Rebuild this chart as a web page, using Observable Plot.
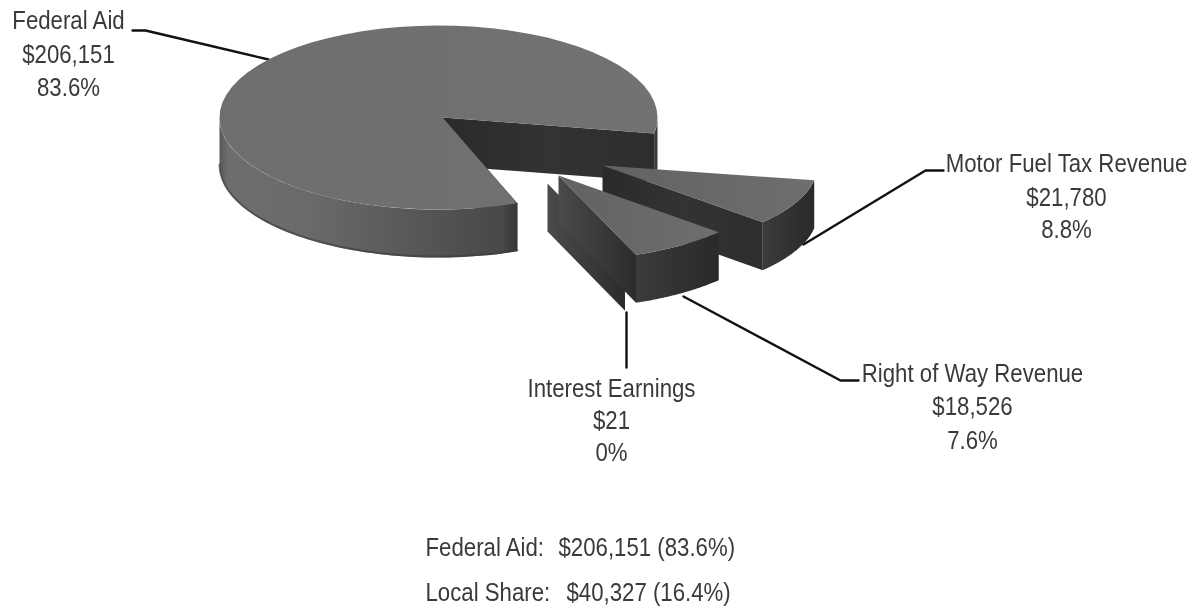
<!DOCTYPE html>
<html>
<head>
<meta charset="utf-8">
<style>html,body{margin:0;padding:0;background:#fff}svg{display:block;filter:blur(0.5px)}</style>
<script src="https://cdn.jsdelivr.net/npm/d3@7"></script>
<script src="https://cdn.jsdelivr.net/npm/@observablehq/plot@0.6"></script>
</head>
<body>
<script>
// data
const categories = ["Motor Fuel Tax Revenue", "Right of Way Revenue", "Interest Earnings", "Federal Aid"];
const amounts = [21780, 18526, 21, 206151];
const amountLabels = ["$21,780", "$18,526", "$21", "$206,151"];
const percentLabels = ["8.8%", "7.6%", "0%", "83.6%"];
const summaryNames = ["Federal Aid:", "Local Share:"];
const summaryValues = ["$206,151 (83.6%)", "$40,327 (16.4%)"];

// layout of the tilted pie (drawn through identity-like x/y scales)
const W = 1194, H = 606;
const depth = 48, startDeg = 10;
const radiiX = [215, 215, 215, 219];
const radiiY = [85, 85, 85, 92];
const centersX = [602, 558, 547, 438];
const centersY = [165, 175, 183, 117];
const apexShift = [0, 0, 0, 4];
const labelX = [1066, 972, 611, 68];
const labelY = [[163, 197, 229], [373, 406, 440], [388, 420, 452], [20, 54, 87]];
const leaders = [
  [[943, 170], [925, 170], [803, 244]],
  [[858, 380], [840, 380], [683, 296]],
  [[626, 312], [626, 367]],
  [[132, 30], [145, 30], [268, 59]]
];

const total = d3.sum(amounts);
const cum = [0, ...d3.cumsum(amounts)];
const rad = d => d * Math.PI / 180;
const angleAt = i => rad(startDeg) + cum[i] / total * 2 * Math.PI;

const pt = (i, a, dz = 0) => ({x: centersX[i] + radiiX[i] * Math.cos(a), y: centersY[i] + radiiY[i] * Math.sin(a) + dz});
const apex = (i, dz = 0) => ({x: centersX[i] + apexShift[i], y: centersY[i] + dz});
const arc = (i, a0, a1, dz = 0) => d3.range(0, 61).map(k => pt(i, a0 + (a1 - a0) * k / 60, dz));

const sliceTop = i => [apex(i), ...arc(i, angleAt(i), angleAt(i + 1))];
const rim = (i, a0, a1) => [...arc(i, a0, a1), ...arc(i, a1, a0, depth)];
const wall = (i, a) => [apex(i), pt(i, a), pt(i, a, depth), apex(i, depth)];

const poly = (pts, fill) => Plot.line(pts, {x: "x", y: "y", fill, stroke: "none", curve: "linear"});

const defs = () => {
  const s = d3.create("svg:defs");
  const grad = (id, stops) => {
    const g = s.append("linearGradient").attr("id", id)
      .attr("x1", 0).attr("y1", 0).attr("x2", 1).attr("y2", 0);
    stops.forEach(([o, c]) => g.append("stop").attr("offset", o).attr("stop-color", c));
  };
  grad("rimMain", [[0, "#585858"], [0.03, "#6e6e6e"], [0.3, "#6a6a6a"], [0.6, "#5a5a5a"], [0.95, "#484848"], [1, "#363636"]]);
  grad("rimSlice", [[0, "#3c3c3c"], [0.6, "#303030"], [1, "#2a2a2a"]]);
  grad("wallDark", [[0, "#2a2a2a"], [0.5, "#333333"], [1, "#2e2e2e"]]);
  grad("wallSide", [[0, "#4a4a4a"], [0.6, "#383838"], [1, "#2c2c2c"]]);
  grad("topMain", [[0, "#6e6e6e"], [1, "#727272"]]);
  grad("topSlice", [[0, "#626262"], [1, "#6e6e6e"]]);
  return s.node();
};

const [iM, iR, iI, iF] = [0, 1, 2, 3];
const textOpts = {fill: "#3a3a3a", fontSize: 25, fontFamily: "'Liberation Sans',sans-serif"};
const labelRows = categories.flatMap((c, i) => [c, amountLabels[i], percentLabels[i]].map((t, k) => ({t, x: labelX[i], y: labelY[i][k]})));
const leaderRows = leaders.flatMap((l, i) => l.map(([x, y]) => ({i, x, y})));

const summaryRows = [
  {t: summaryNames[0], x: 425, y: 547},
  {t: summaryValues[0], x: 558, y: 547},
  {t: summaryNames[1], x: 425, y: 592},
  {t: summaryValues[1], x: 566, y: 592}
];

const chart = Plot.plot({
  width: W, height: H, margin: 0,
  x: {domain: [0, W], range: [0, W], axis: null},
  y: {domain: [0, H], range: [0, H], axis: null},
  marks: [
    defs,
    Plot.line(leaderRows, {x: "x", y: "y", z: "i", stroke: "#111", strokeWidth: 2.4, curve: "linear"}),
    // Federal Aid
    poly(wall(iF, angleAt(iF)), "#2f2f2f"),
    poly(rim(iF, angleAt(iF), Math.PI), "url(#rimMain)"),
    Plot.line(arc(iF, angleAt(iF), Math.PI, depth - 1), {x: "x", y: "y", stroke: "#3a3a3a", strokeWidth: 2, strokeOpacity: 0.6, curve: "linear"}),
    poly(rim(iF, 2 * Math.PI, angleAt(4)), "#3a3a3a"),
    poly(wall(iF, angleAt(4)), "url(#wallDark)"),
    poly(sliceTop(iF), "url(#topMain)"),
    // Motor Fuel
    poly(rim(iM, angleAt(0), angleAt(1)), "url(#rimSlice)"),
    poly(wall(iM, angleAt(1)), "url(#wallDark)"),
    poly(sliceTop(iM), "url(#topSlice)"),
    // Interest Earnings: a sliver whose side wall shows
    poly(wall(iI, angleAt(iI)), "url(#wallSide)"),
    // Right of Way
    poly(rim(iR, angleAt(1), angleAt(2)), "url(#rimSlice)"),
    poly(wall(iR, angleAt(2)), "url(#wallSide)"),
    poly(sliceTop(iR), "url(#topSlice)"),
    Plot.text(labelRows, {x: "x", y: "y", text: "t", textAnchor: "middle", ...textOpts}),
    Plot.text(summaryRows, {x: "x", y: "y", text: "t", textAnchor: "start", ...textOpts})
  ]
});
document.body.appendChild(chart);
// the reference face is a condensed grotesque: narrow the real text horizontally
d3.select(chart).selectAll("text").each(function () {
  const t = this.getAttribute("transform") || "";
  this.setAttribute("transform", t + " scale(0.889,1)");
});
</script>
</body>
</html>
